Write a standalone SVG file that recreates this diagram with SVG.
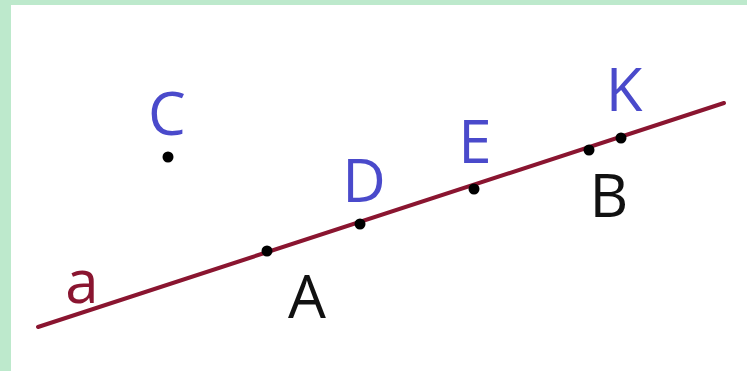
<svg xmlns="http://www.w3.org/2000/svg" width="747" height="371" viewBox="0 0 747 371">
  <style>
    .lbl { font-family: "Open Sans", "Liberation Sans", sans-serif; font-size: 60px; text-anchor: middle; }
    .blue { fill: #4a4acb; }
    .black { fill: #111111; }
    .pt { fill: #000000; }
    .line { stroke: #8a1530; stroke-width: 4; fill: none; stroke-linecap: round; }
  </style>
  <rect x="0" y="0" width="747" height="371" fill="#ffffff"/>
  <rect x="0" y="0" width="747" height="5" fill="#bde9cc"/>
  <rect x="0" y="0" width="11" height="371" fill="#bde9cc"/>
  <g id="connectors">
    <line class="line" x1="38" y1="327" x2="724" y2="103"/>
  </g>
  <g id="line-a">
    <text x="82" y="303" class="lbl" fill="#8a1530" style="font-size:60px">a</text>
  </g>
  <g id="point-C">
    <circle class="pt" cx="168" cy="157" r="5.5"/>
    <text x="167" y="135" class="lbl blue">C</text>
  </g>
  <g id="point-A">
    <circle class="pt" cx="267" cy="251" r="5.5"/>
    <text x="307" y="318" class="lbl black">A</text>
  </g>
  <g id="point-D">
    <circle class="pt" cx="360" cy="224" r="5.5"/>
    <text x="364" y="202" class="lbl blue">D</text>
  </g>
  <g id="point-E">
    <circle class="pt" cx="474" cy="189" r="5.5"/>
    <text x="475" y="163" class="lbl blue">E</text>
  </g>
  <g id="point-B">
    <circle class="pt" cx="589" cy="150" r="5.5"/>
    <text x="609" y="217" class="lbl black">B</text>
  </g>
  <g id="point-K">
    <circle class="pt" cx="621" cy="138" r="5.5"/>
    <text x="624" y="111" class="lbl blue">K</text>
  </g>
</svg>
